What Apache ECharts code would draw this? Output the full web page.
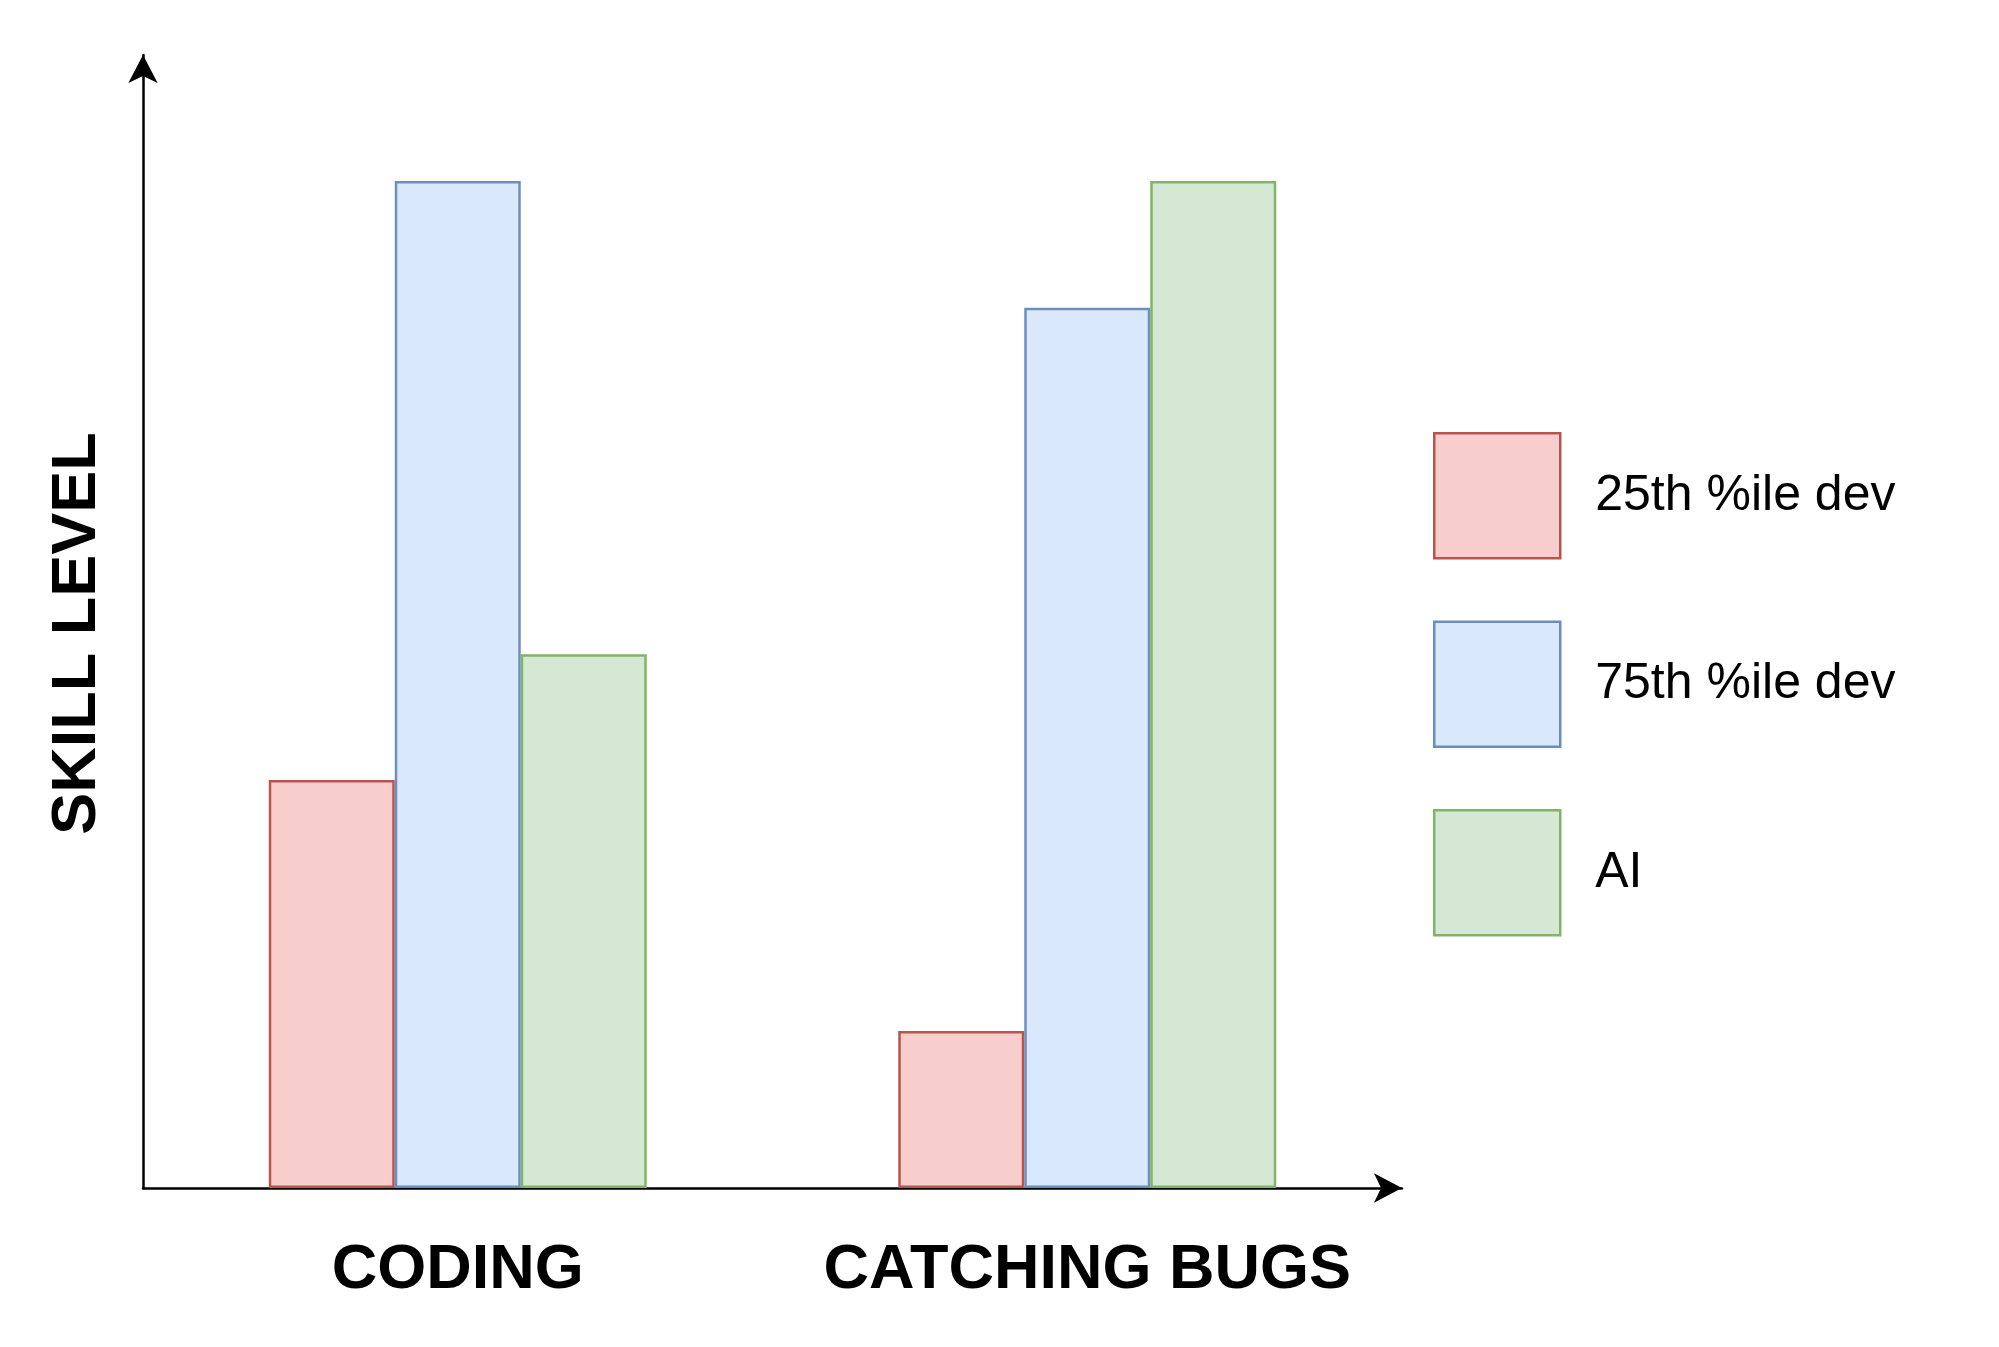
<!DOCTYPE html>
<html>
<head>
<meta charset="utf-8">
<title>Skill level</title>
<script src="https://cdn.jsdelivr.net/npm/echarts@6/dist/echarts.min.js"></script>
<style>
  html, body { margin: 0; padding: 0; background: #fff; }
  #chartDiv { width: 1999px; height: 1347px; }
</style>
</head>
<body>
<div id="chartDiv"></div>
<script>
var categories = ["CODING", "CATCHING BUGS"];
var seriesNames = ["25th %ile dev", "75th %ile dev", "AI"];
var dev25 = [4.05, 1.56];
var dev75 = [10, 8.74];
var aiVals = [5.3, 10];

var fills = ["#f8cecc", "#dae8fc", "#d5e8d4"];
var borders = ["#b85450", "#6c8ebf", "#82b366"];

var myChart = echarts.init(document.getElementById("chartDiv"));

var font = "'Liberation Sans', Arial, Helvetica, sans-serif";

function barSeries(i, data) {
  return {
    name: seriesNames[i],
    type: "bar",
    data: data,
    barWidth: 126,
    barGap: "0%",
    itemStyle: { color: fills[i], borderColor: borders[i], borderWidth: 2.5 }
  };
}

var option = {
  backgroundColor: "#fff",
  animation: false,
  grid: { left: 143, right: 597, top: 55, bottom: 159, containLabel: false },
  legend: {
    orient: "vertical",
    left: 1433,
    top: 432,
    padding: 0,
    itemWidth: 126,
    itemHeight: 125,
    itemGap: 61,
    icon: "rect",
    data: seriesNames,
    itemStyle: { borderWidth: 2.5 },
    textStyle: { fontFamily: font, fontSize: 50, color: "#000", padding: [0, 0, 0, 30] }
  },
  xAxis: {
    type: "category",
    data: categories,
    axisTick: { show: false },
    axisLine: {
      lineStyle: { color: "#000", width: 2.5 },
      symbol: ["none", "arrow"],
      symbolSize: [22, 28],
      symbolOffset: [0, 0]
    },
    axisLabel: {
      interval: 0,
      hideOverlap: false,
      margin: 51,
      fontFamily: font,
      fontSize: 63,
      fontWeight: "bold",
      color: "#000"
    }
  },
  yAxis: {
    type: "value",
    min: 0,
    max: 11.25,
    name: "SKILL LEVEL",
    nameLocation: "middle",
    nameRotate: 90,
    nameGap: 34,
    nameTextStyle: {
      fontFamily: font,
      fontSize: 63,
      fontWeight: "bold",
      color: "#000",
      padding: [0, 24, 0, 0]
    },
    splitLine: { show: false },
    axisLabel: { show: false },
    axisTick: { show: false },
    axisLine: {
      show: true,
      lineStyle: { color: "#000", width: 2.5 },
      symbol: ["none", "arrow"],
      symbolSize: [22, 28],
      symbolOffset: [0, 0]
    }
  },
  series: [barSeries(0, dev25), barSeries(1, dev75), barSeries(2, aiVals)]
};

myChart.setOption(option);

window.addEventListener("resize", function () {
  myChart.resize();
});
</script>
</body>
</html>
